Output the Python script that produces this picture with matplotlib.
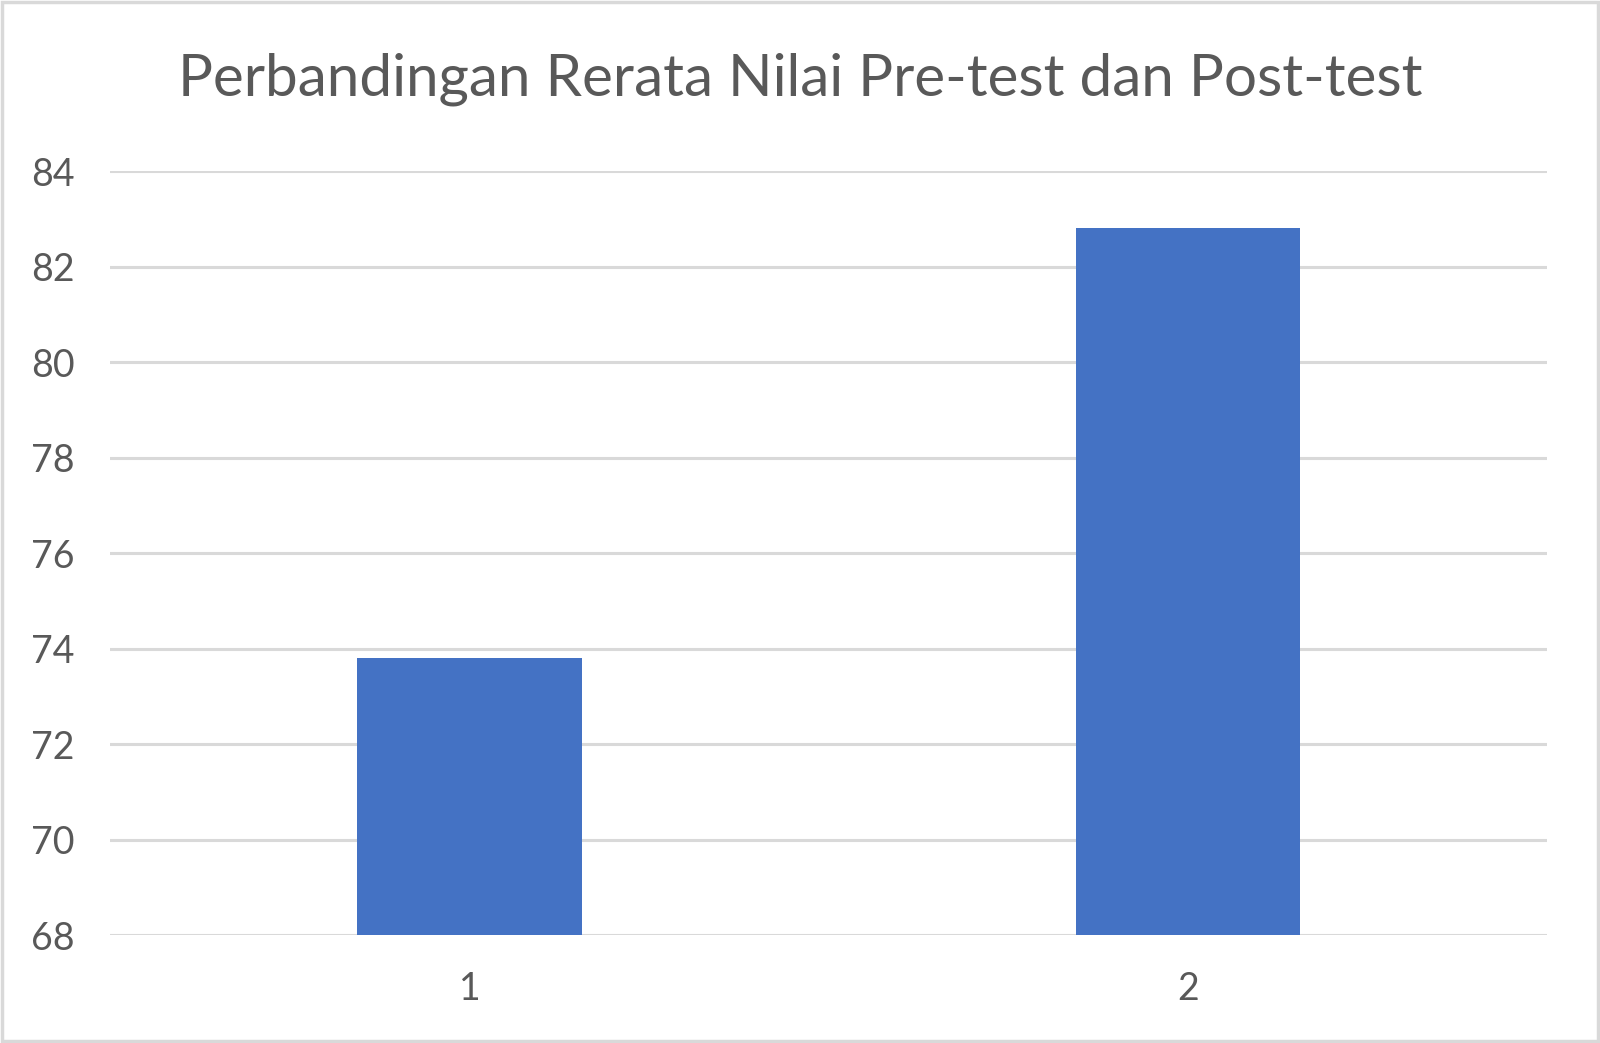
import matplotlib.pyplot as plt
from matplotlib.patches import Rectangle

# data
categories = ["1", "2"]
values = [73.8, 82.8]
y_ticks = [68, 70, 72, 74, 76, 78, 80, 82, 84]
title = "Perbandingan Rerata Nilai Pre-test dan Post-test"

plt.rcParams['font.family'] = ['Lato', 'DejaVu Sans']

fig = plt.figure(figsize=(16, 10.43), dpi=100)
ax = fig.add_axes([0.069, 0.1035, 0.898, 0.7325])

x = list(range(1, len(categories) + 1))
ax.bar(x, values, width=0.313, color="#4472C4", zorder=3)

ax.set_xlim(0.5, 2.5)
ax.set_ylim(68, 84)
ax.set_yticks(y_ticks)
ax.set_xticks(x)
ax.set_xticklabels(categories)

# grid
ax.yaxis.grid(True, color="#d9d9d9", linewidth=2.2, zorder=0)
ax.set_axisbelow(True)
for s in ax.spines.values():
    s.set_visible(False)
ax.tick_params(axis="both", length=0, labelsize=27, colors="#595959")
ax.tick_params(axis="y", pad=26)
ax.tick_params(axis="x", pad=26)

fig.text(0.5, 0.924, title, ha="center", va="center", fontsize=42, color="#595959")

# outer frame
fig.patches.append(Rectangle((0.001, 0.0015), 0.998, 0.997, transform=fig.transFigure,
                             fill=False, edgecolor="#d9d9d9", linewidth=2.5))

fig.savefig("out.png", dpi=100)
